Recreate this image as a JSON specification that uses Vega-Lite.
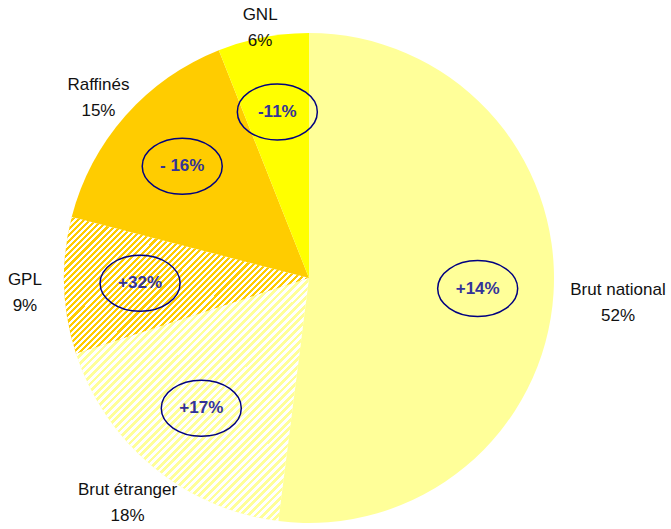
{
  "$schema": "https://vega.github.io/schema/vega-lite/v6.json",
  "width": 618,
  "height": 502,
  "autosize": "none",
  "padding": {"left": 0, "top": 27, "right": 53, "bottom": 0},
  "background": "white",
  "config": {"view": {"stroke": null}},
  "params": [
    {"name": "stripes", "value": [
      {"offset":0,"color":"#fff"},{"offset":0.008,"color":"#fff"},{"offset":0.008,"color":"#fff0"},{"offset":0.016,"color":"#fff0"},
      {"offset":0.016,"color":"#fff"},{"offset":0.024,"color":"#fff"},{"offset":0.024,"color":"#fff0"},{"offset":0.032,"color":"#fff0"},
      {"offset":0.032,"color":"#fff"},{"offset":0.04,"color":"#fff"},{"offset":0.04,"color":"#fff0"},{"offset":0.048,"color":"#fff0"},
      {"offset":0.048,"color":"#fff"},{"offset":0.056,"color":"#fff"},{"offset":0.056,"color":"#fff0"},{"offset":0.064,"color":"#fff0"},
      {"offset":0.064,"color":"#fff"},{"offset":0.072,"color":"#fff"},{"offset":0.072,"color":"#fff0"},{"offset":0.08,"color":"#fff0"},
      {"offset":0.08,"color":"#fff"},{"offset":0.088,"color":"#fff"},{"offset":0.088,"color":"#fff0"},{"offset":0.096,"color":"#fff0"},
      {"offset":0.096,"color":"#fff"},{"offset":0.104,"color":"#fff"},{"offset":0.104,"color":"#fff0"},{"offset":0.112,"color":"#fff0"},
      {"offset":0.112,"color":"#fff"},{"offset":0.12,"color":"#fff"},{"offset":0.12,"color":"#fff0"},{"offset":0.128,"color":"#fff0"},
      {"offset":0.128,"color":"#fff"},{"offset":0.136,"color":"#fff"},{"offset":0.136,"color":"#fff0"},{"offset":0.144,"color":"#fff0"},
      {"offset":0.144,"color":"#fff"},{"offset":0.152,"color":"#fff"},{"offset":0.152,"color":"#fff0"},{"offset":0.16,"color":"#fff0"},
      {"offset":0.16,"color":"#fff"},{"offset":0.168,"color":"#fff"},{"offset":0.168,"color":"#fff0"},{"offset":0.176,"color":"#fff0"},
      {"offset":0.176,"color":"#fff"},{"offset":0.184,"color":"#fff"},{"offset":0.184,"color":"#fff0"},{"offset":0.192,"color":"#fff0"},
      {"offset":0.192,"color":"#fff"},{"offset":0.2,"color":"#fff"},{"offset":0.2,"color":"#fff0"},{"offset":0.208,"color":"#fff0"},
      {"offset":0.208,"color":"#fff"},{"offset":0.216,"color":"#fff"},{"offset":0.216,"color":"#fff0"},{"offset":0.224,"color":"#fff0"},
      {"offset":0.224,"color":"#fff"},{"offset":0.232,"color":"#fff"},{"offset":0.232,"color":"#fff0"},{"offset":0.24,"color":"#fff0"},
      {"offset":0.24,"color":"#fff"},{"offset":0.248,"color":"#fff"},{"offset":0.248,"color":"#fff0"},{"offset":0.256,"color":"#fff0"},
      {"offset":0.256,"color":"#fff"},{"offset":0.264,"color":"#fff"},{"offset":0.264,"color":"#fff0"},{"offset":0.272,"color":"#fff0"},
      {"offset":0.272,"color":"#fff"},{"offset":0.28,"color":"#fff"},{"offset":0.28,"color":"#fff0"},{"offset":0.288,"color":"#fff0"},
      {"offset":0.288,"color":"#fff"},{"offset":0.296,"color":"#fff"},{"offset":0.296,"color":"#fff0"},{"offset":0.304,"color":"#fff0"},
      {"offset":0.304,"color":"#fff"},{"offset":0.312,"color":"#fff"},{"offset":0.312,"color":"#fff0"},{"offset":0.32,"color":"#fff0"},
      {"offset":0.32,"color":"#fff"},{"offset":0.328,"color":"#fff"},{"offset":0.328,"color":"#fff0"},{"offset":0.336,"color":"#fff0"},
      {"offset":0.336,"color":"#fff"},{"offset":0.344,"color":"#fff"},{"offset":0.344,"color":"#fff0"},{"offset":0.352,"color":"#fff0"},
      {"offset":0.352,"color":"#fff"},{"offset":0.36,"color":"#fff"},{"offset":0.36,"color":"#fff0"},{"offset":0.368,"color":"#fff0"},
      {"offset":0.368,"color":"#fff"},{"offset":0.376,"color":"#fff"},{"offset":0.376,"color":"#fff0"},{"offset":0.384,"color":"#fff0"},
      {"offset":0.384,"color":"#fff"},{"offset":0.392,"color":"#fff"},{"offset":0.392,"color":"#fff0"},{"offset":0.4,"color":"#fff0"},
      {"offset":0.4,"color":"#fff"},{"offset":0.408,"color":"#fff"},{"offset":0.408,"color":"#fff0"},{"offset":0.416,"color":"#fff0"},
      {"offset":0.416,"color":"#fff"},{"offset":0.424,"color":"#fff"},{"offset":0.424,"color":"#fff0"},{"offset":0.432,"color":"#fff0"},
      {"offset":0.432,"color":"#fff"},{"offset":0.44,"color":"#fff"},{"offset":0.44,"color":"#fff0"},{"offset":0.448,"color":"#fff0"},
      {"offset":0.448,"color":"#fff"},{"offset":0.456,"color":"#fff"},{"offset":0.456,"color":"#fff0"},{"offset":0.464,"color":"#fff0"},
      {"offset":0.464,"color":"#fff"},{"offset":0.472,"color":"#fff"},{"offset":0.472,"color":"#fff0"},{"offset":0.48,"color":"#fff0"},
      {"offset":0.48,"color":"#fff"},{"offset":0.488,"color":"#fff"},{"offset":0.488,"color":"#fff0"},{"offset":0.496,"color":"#fff0"},
      {"offset":0.496,"color":"#fff"},{"offset":0.504,"color":"#fff"},{"offset":0.504,"color":"#fff0"},{"offset":0.512,"color":"#fff0"},
      {"offset":0.512,"color":"#fff"},{"offset":0.52,"color":"#fff"},{"offset":0.52,"color":"#fff0"},{"offset":0.528,"color":"#fff0"},
      {"offset":0.528,"color":"#fff"},{"offset":0.536,"color":"#fff"},{"offset":0.536,"color":"#fff0"},{"offset":0.544,"color":"#fff0"},
      {"offset":0.544,"color":"#fff"},{"offset":0.552,"color":"#fff"},{"offset":0.552,"color":"#fff0"},{"offset":0.56,"color":"#fff0"},
      {"offset":0.56,"color":"#fff"},{"offset":0.568,"color":"#fff"},{"offset":0.568,"color":"#fff0"},{"offset":0.576,"color":"#fff0"},
      {"offset":0.576,"color":"#fff"},{"offset":0.584,"color":"#fff"},{"offset":0.584,"color":"#fff0"},{"offset":0.592,"color":"#fff0"},
      {"offset":0.592,"color":"#fff"},{"offset":0.6,"color":"#fff"},{"offset":0.6,"color":"#fff0"},{"offset":0.608,"color":"#fff0"},
      {"offset":0.608,"color":"#fff"},{"offset":0.616,"color":"#fff"},{"offset":0.616,"color":"#fff0"},{"offset":0.624,"color":"#fff0"},
      {"offset":0.624,"color":"#fff"},{"offset":0.632,"color":"#fff"},{"offset":0.632,"color":"#fff0"},{"offset":0.64,"color":"#fff0"},
      {"offset":0.64,"color":"#fff"},{"offset":0.648,"color":"#fff"},{"offset":0.648,"color":"#fff0"},{"offset":0.656,"color":"#fff0"},
      {"offset":0.656,"color":"#fff"},{"offset":0.664,"color":"#fff"},{"offset":0.664,"color":"#fff0"},{"offset":0.672,"color":"#fff0"},
      {"offset":0.672,"color":"#fff"},{"offset":0.68,"color":"#fff"},{"offset":0.68,"color":"#fff0"},{"offset":0.688,"color":"#fff0"},
      {"offset":0.688,"color":"#fff"},{"offset":0.696,"color":"#fff"},{"offset":0.696,"color":"#fff0"},{"offset":0.704,"color":"#fff0"},
      {"offset":0.704,"color":"#fff"},{"offset":0.712,"color":"#fff"},{"offset":0.712,"color":"#fff0"},{"offset":0.72,"color":"#fff0"},
      {"offset":0.72,"color":"#fff"},{"offset":0.728,"color":"#fff"},{"offset":0.728,"color":"#fff0"},{"offset":0.736,"color":"#fff0"},
      {"offset":0.736,"color":"#fff"},{"offset":0.744,"color":"#fff"},{"offset":0.744,"color":"#fff0"},{"offset":0.752,"color":"#fff0"},
      {"offset":0.752,"color":"#fff"},{"offset":0.76,"color":"#fff"},{"offset":0.76,"color":"#fff0"},{"offset":0.768,"color":"#fff0"},
      {"offset":0.768,"color":"#fff"},{"offset":0.776,"color":"#fff"},{"offset":0.776,"color":"#fff0"},{"offset":0.784,"color":"#fff0"},
      {"offset":0.784,"color":"#fff"},{"offset":0.792,"color":"#fff"},{"offset":0.792,"color":"#fff0"},{"offset":0.8,"color":"#fff0"},
      {"offset":0.8,"color":"#fff"},{"offset":0.808,"color":"#fff"},{"offset":0.808,"color":"#fff0"},{"offset":0.816,"color":"#fff0"},
      {"offset":0.816,"color":"#fff"},{"offset":0.824,"color":"#fff"},{"offset":0.824,"color":"#fff0"},{"offset":0.832,"color":"#fff0"},
      {"offset":0.832,"color":"#fff"},{"offset":0.84,"color":"#fff"},{"offset":0.84,"color":"#fff0"},{"offset":0.848,"color":"#fff0"},
      {"offset":0.848,"color":"#fff"},{"offset":0.856,"color":"#fff"},{"offset":0.856,"color":"#fff0"},{"offset":0.864,"color":"#fff0"},
      {"offset":0.864,"color":"#fff"},{"offset":0.872,"color":"#fff"},{"offset":0.872,"color":"#fff0"},{"offset":0.88,"color":"#fff0"},
      {"offset":0.88,"color":"#fff"},{"offset":0.888,"color":"#fff"},{"offset":0.888,"color":"#fff0"},{"offset":0.896,"color":"#fff0"},
      {"offset":0.896,"color":"#fff"},{"offset":0.904,"color":"#fff"},{"offset":0.904,"color":"#fff0"},{"offset":0.912,"color":"#fff0"},
      {"offset":0.912,"color":"#fff"},{"offset":0.92,"color":"#fff"},{"offset":0.92,"color":"#fff0"},{"offset":0.928,"color":"#fff0"},
      {"offset":0.928,"color":"#fff"},{"offset":0.936,"color":"#fff"},{"offset":0.936,"color":"#fff0"},{"offset":0.944,"color":"#fff0"},
      {"offset":0.944,"color":"#fff"},{"offset":0.952,"color":"#fff"},{"offset":0.952,"color":"#fff0"},{"offset":0.96,"color":"#fff0"},
      {"offset":0.96,"color":"#fff"},{"offset":0.968,"color":"#fff"},{"offset":0.968,"color":"#fff0"},{"offset":0.976,"color":"#fff0"},
      {"offset":0.976,"color":"#fff"},{"offset":0.984,"color":"#fff"},{"offset":0.984,"color":"#fff0"},{"offset":0.992,"color":"#fff0"},
      {"offset":0.992,"color":"#fff"},{"offset":1,"color":"#fff"}
    ]}
  ],
  "data": {
    "values": [
      {"name": "Brut national", "share": 0.52, "change": "+14%"},
      {"name": "Brut étranger", "share": 0.18, "change": "+17%"},
      {"name": "GPL", "share": 0.09, "change": "+32%"},
      {"name": "Raffinés", "share": 0.15, "change": "- 16%"},
      {"name": "GNL", "share": 0.06, "change": "-11%"}
    ]
  },
  "transform": [{"window": [{"op": "row_number", "as": "idx"}]}],
  "layer": [
    {
      "mark": {"type": "arc", "outerRadius": 245},
      "encoding": {
        "theta": {"field": "share", "type": "quantitative", "stack": true, "scale": {"domain": [0, 1]}},
        "order": {"field": "idx", "type": "quantitative"},
        "fill": {
          "condition": [
            {"test": "datum.name === 'Brut national' || datum.name === 'Brut étranger'", "value": "#FFFF99"},
            {"test": "datum.name === 'GNL'", "value": "#FFFF00"}
          ],
          "value": "#FFCC00"
        }
      }
    },
    {
      "mark": {
        "type": "arc",
        "outerRadius": 245,
        "fill": {"expr": "datum.name === 'GPL' ? {gradient: 'linear', x1: 0, y1: 0, x2: 1.188, y2: 0.662, stops: stripes} : (datum.name === 'Brut étranger' ? {gradient: 'linear', x1: 0, y1: 0, x2: 0.978, y2: 1.021, stops: stripes} : 'transparent')"}
      },
      "encoding": {
        "theta": {"field": "share", "type": "quantitative", "stack": true},
        "order": {"field": "idx", "type": "quantitative"}
      }
    },
    {
      "mark": {
        "type": "text",
        "radius": {"expr": "277 + 2.6*length(datum.name)*abs(sin(PI*(datum.share_start+datum.share_end))) - 18*abs(cos(PI*(datum.share_start+datum.share_end)))"},
        "dy": -7,
        "font": "Liberation Sans",
        "fontSize": 17,
        "color": "#111111",
        "align": "center",
        "baseline": "middle"
      },
      "encoding": {
        "theta": {"field": "share", "type": "quantitative", "stack": true},
        "order": {"field": "idx", "type": "quantitative"},
        "text": {"field": "name", "type": "nominal"}
      }
    },
    {
      "mark": {
        "type": "text",
        "radius": {"expr": "277 + 2.6*length(datum.name)*abs(sin(PI*(datum.share_start+datum.share_end))) - 18*abs(cos(PI*(datum.share_start+datum.share_end)))"},
        "dy": 19,
        "font": "Liberation Sans",
        "fontSize": 17,
        "color": "#111111",
        "align": "center",
        "baseline": "middle"
      },
      "encoding": {
        "theta": {"field": "share", "type": "quantitative", "stack": true},
        "order": {"field": "idx", "type": "quantitative"},
        "text": {"field": "share", "type": "quantitative", "format": ".0%"}
      }
    },
    {
      "transform": [
        {"stack": "share", "groupby": [], "sort": [{"field": "idx", "order": "ascending"}], "as": ["s0", "s1"]},
        {"calculate": "169*sin(PI*(datum.s0+datum.s1))", "as": "ex"},
        {"calculate": "169*cos(PI*(datum.s0+datum.s1))", "as": "ey"}
      ],
      "encoding": {
        "x": {"field": "ex", "type": "quantitative", "scale": {"domain": [-309, 309], "nice": false, "zero": false}, "axis": null},
        "y": {"field": "ey", "type": "quantitative", "scale": {"domain": [-251, 251], "nice": false, "zero": false}, "axis": null}
      },
      "layer": [
        {
          "mark": {
            "type": "point",
            "shape": "M -1 0 C -1 -0.3866 -0.5523 -0.7 0 -0.7 C 0.5523 -0.7 1 -0.3866 1 0 C 1 0.3866 0.5523 0.7 0 0.7 C -0.5523 0.7 -1 0.3866 -1 0 Z",
            "size": 6400,
            "filled": false,
            "stroke": "#000080",
            "strokeWidth": 1.5,
            "opacity": 1
          }
        },
        {
          "mark": {
            "type": "text",
            "font": "Liberation Sans",
            "fontWeight": "bold",
            "fontSize": 17,
            "color": "#333399",
            "align": "center",
            "baseline": "middle"
          },
          "encoding": {"text": {"field": "change", "type": "nominal"}}
        }
      ]
    }
  ]
}
